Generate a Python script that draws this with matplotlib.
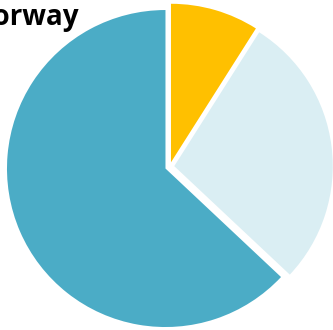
import matplotlib
matplotlib.use('Agg')
from matplotlib import pyplot as plt

# share of each category, drawn clockwise from 12 o'clock
labels = ['Category A', 'Category B', 'Category C']
shares = [9, 28, 63]
colors = ['#FFC000', '#DAEEF3', '#4BACC6']
title = 'Norway'

fig = plt.figure(figsize=(3.33, 3.30), dpi=100)
ax = fig.add_axes([0, 0, 1, 1])

ax.pie(shares, labels=None, colors=colors, startangle=90, counterclock=False,
       explode=[0.029] * len(shares), radius=1.0,
       wedgeprops=dict(linewidth=0))

# pie centre sits slightly right of the middle; the plot runs off the right edge
px = 158.5
ax.set_xlim(-169.7 / px, (333 - 169.7) / px)
ax.set_ylim(-(330 - 166.7) / px, 166.7 / px)
ax.set_aspect('auto')
ax.axis('off')

fig.text(79 / 333, 1 - 25 / 330, title, ha='right', va='baseline',
         fontsize=20, fontweight='bold', family='Open Sans')

fig.savefig('out.png', dpi=100)
